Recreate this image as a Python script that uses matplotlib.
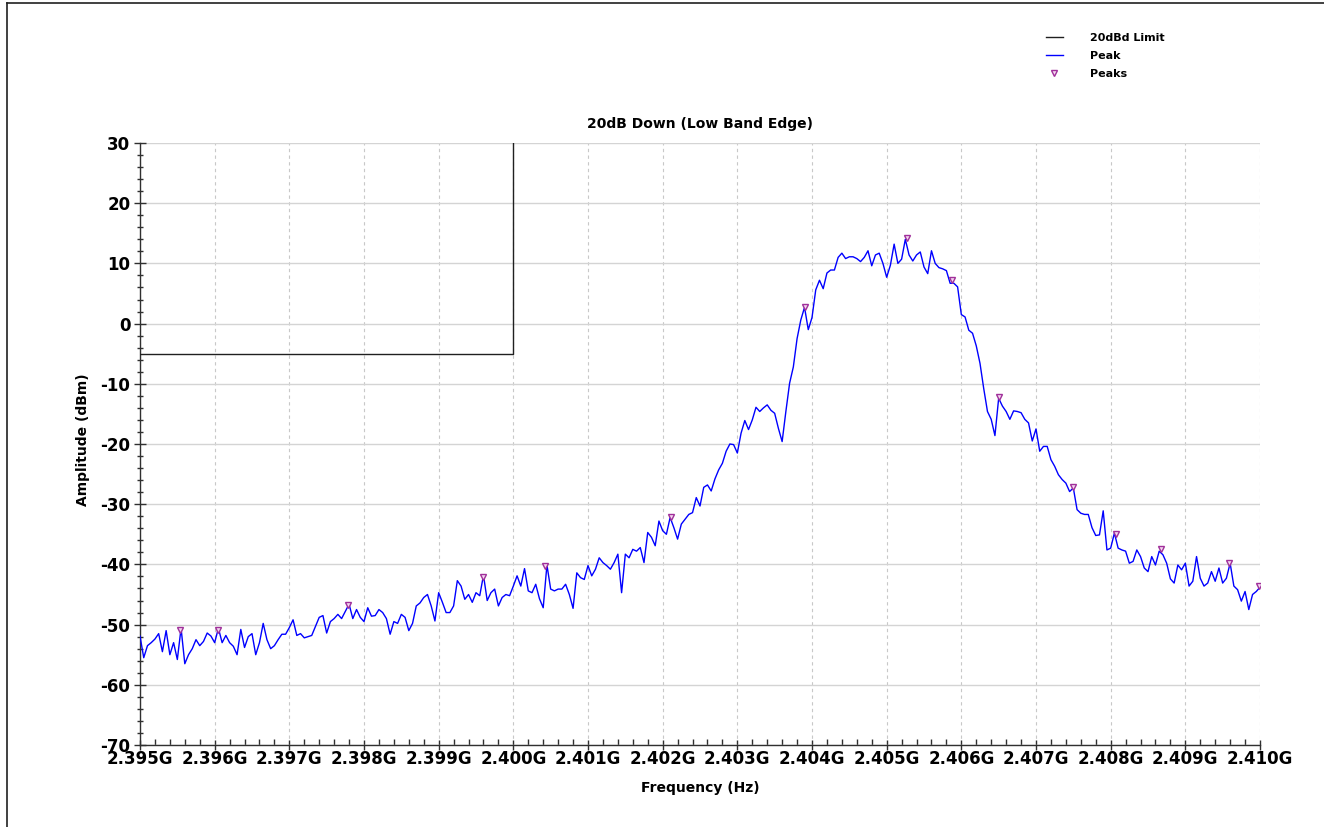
import numpy as np
import matplotlib
matplotlib.use("Agg")
import matplotlib.pyplot as plt
import matplotlib.ticker as ticker
from matplotlib.lines import Line2D

# sweep: 301 points from 2.395 GHz to 2.410 GHz
sweep_start = 2.395e9
sweep_stop = 2.410e9
sweep_points = 301

# peak trace (dBm)
peak_amp = [
    -51.9, -55.5, -53.5, -53.0, -52.4, -51.5, -54.5, -51.0, -55.0, -53.0,
    -55.8, -50.6, -56.5, -55.0, -54.0, -52.5, -53.5, -52.8, -51.4, -51.9,
    -53.0, -50.6, -53.0, -51.8, -53.0, -53.6, -55.0, -50.8, -53.8, -52.0,
    -51.5, -55.0, -53.0, -49.8, -52.5, -54.0, -53.5, -52.5, -51.6, -51.6,
    -50.5, -49.2, -51.8, -51.5, -52.2, -52.0, -51.8, -50.3, -48.8, -48.5,
    -51.4, -49.5, -49.0, -48.3, -49.0, -47.8, -46.6, -49.0, -47.5, -48.8,
    -49.5, -47.2, -48.6, -48.5, -47.5, -48.0, -49.0, -51.6, -49.5, -49.8,
    -48.3, -48.8, -51.0, -49.8, -46.9, -46.4, -45.5, -45.0,
    -46.9, -49.4, -44.7, -46.3, -48.0, -48.0, -46.9, -42.7, -43.6, -45.8,
    -45.0, -46.3, -44.7, -45.2, -41.8, -46.0, -44.7, -44.1, -46.9, -45.5,
    -45.0, -45.2, -43.6, -41.9, -43.6, -40.7, -44.4, -44.7, -43.3, -45.7,
    -47.2, -40.1, -44.1, -44.4, -44.1, -44.1, -43.3, -45.0, -47.3, -41.4,
    -42.2, -42.5, -40.2, -41.9, -40.8, -38.9, -39.7, -40.2, -40.8, -39.7,
    -38.3, -44.7, -38.3, -38.9, -37.5, -37.8, -37.2, -39.7, -34.7, -35.5,
    -36.9, -32.8, -34.4, -35.0, -32.2, -33.9, -35.8, -33.3, -32.5, -31.7,
    -31.4, -28.9, -30.3, -27.2, -26.8, -27.8, -25.8,
    -24.3, -23.2, -21.2, -20.0, -20.1, -21.5, -18.2, -16.1, -17.6, -16.0,
    -13.9, -14.6, -14.0, -13.5, -14.4, -14.9, -17.4, -19.6, -14.6, -9.9,
    -7.2, -2.5, 0.6, 2.7, -1.0, 1.0, 5.6, 7.2, 5.8, 8.4,
    8.9, 8.9, 11.0, 11.7, 10.8, 11.1, 11.1, 10.8, 10.3, 11.0,
    12.1, 9.6, 11.4, 11.7, 10.0, 7.7, 9.7, 13.2, 10.0, 10.7,
    14.0, 11.4, 10.4, 11.4, 11.9, 9.4, 8.3, 12.1, 10.0, 9.3,
    9.1, 8.8, 6.7, 6.7, 6.1, 1.5, 1.1, -1.1, -1.6, -3.7,
    -6.6, -10.8, -14.6,
    -15.9, -18.6, -12.4, -13.7, -14.6, -15.9, -14.5, -14.6, -14.8, -15.9,
    -16.5, -19.5, -17.5, -21.2, -20.4, -20.4, -22.6, -23.7, -25.1, -25.9,
    -26.5, -27.9, -27.3, -30.9, -31.5, -31.7, -31.7, -33.9,
    -35.2, -35.1, -31.1, -37.6, -37.3, -34.8, -37.3, -37.6, -37.8, -39.8,
    -39.5, -37.6, -38.7, -40.6, -41.2, -38.7, -40.1, -37.8, -38.4, -39.8,
    -42.4, -43.1, -40.1, -40.9, -39.8, -43.6, -42.8, -38.7, -42.3, -43.6,
    -43.1, -41.2, -42.8, -40.6, -43.1, -42.3, -39.8, -43.6, -44.2, -46.1,
    -44.5, -47.5, -45.0, -44.5, -43.8,
]

# peak markers
marker_freq = [2.39554e9, 2.39605e9, 2.39779e9, 2.39959e9, 2.40043e9,
               2.40211e9, 2.40391e9, 2.40527e9, 2.40588e9, 2.40651e9,
               2.40750e9, 2.40807e9, 2.40868e9, 2.40959e9, 2.40999e9]
marker_amp = [-50.9, -50.9, -46.7, -42.1, -40.3,
              -32.1, 2.8, 14.2, 7.2, -12.2,
              -27.1, -35.0, -37.4, -39.8, -43.6]

# 20dBd limit mask
limit_freq = [2.395e9, 2.400e9, 2.400e9]
limit_amp = [-5, -5, 30]

freq = np.linspace(sweep_start, sweep_stop, sweep_points)

plt.rcParams['font.family'] = ['DejaVu Sans']
plt.rcParams['axes.unicode_minus'] = False

fig = plt.figure(figsize=(13.24, 8.27), dpi=100)
ax = fig.add_axes([140/1324, 1-745/827, 1120/1324, 602/827])

ax.plot(limit_freq, limit_amp, color='#202020', lw=1.0, label='20dBd Limit', zorder=3)
ax.plot(freq, peak_amp, color='#0000ff', lw=1.0, label='Peak', zorder=4)
ax.plot(marker_freq, marker_amp, ls='none', marker='v', markersize=5,
        markerfacecolor='#f4d8f0', markeredgecolor='#a0309a', markeredgewidth=1.0,
        label='Peaks', zorder=5)

ax.set_xlim(sweep_start, sweep_stop)
ax.set_ylim(-70, 30)
ax.xaxis.set_major_locator(ticker.MultipleLocator(1e6))
ax.xaxis.set_minor_locator(ticker.MultipleLocator(2e5))
ax.xaxis.set_major_formatter(ticker.FuncFormatter(lambda v, p: '%.3fG' % (v/1e9)))
ax.yaxis.set_major_locator(ticker.MultipleLocator(10))
ax.yaxis.set_minor_locator(ticker.MultipleLocator(2))

ax.grid(axis='y', which='major', color='#d4d4d4', lw=1.0, ls='-')
ax.grid(axis='x', which='major', color='#c8c8c8', lw=0.8, ls=(0, (3, 3)))
ax.set_axisbelow(True)

for s in ['top', 'right']:
    ax.spines[s].set_visible(False)
for s in ['left', 'bottom']:
    ax.spines[s].set_color('#303030')
    ax.spines[s].set_linewidth(1.0)

ax.tick_params(axis='x', which='major', direction='inout', length=7, width=1,
               color='#303030', pad=0)
ax.tick_params(axis='x', which='minor', direction='in', length=4, width=1,
               color='#303030')
ax.tick_params(axis='y', which='major', direction='inout', length=8, width=1,
               color='#303030', pad=3)
ax.tick_params(axis='y', which='minor', direction='inout', length=5, width=1,
               color='#303030')
for lab in ax.get_xticklabels() + ax.get_yticklabels():
    lab.set_fontsize(12)
    lab.set_fontweight('bold')

ax.set_title('20dB Down (Low Band Edge)', fontsize=10, fontweight='bold', pad=11)
fig.text(700/1324, 1-788/827, 'Frequency (Hz)', fontsize=10, fontweight='bold',
         ha='center', va='center')
fig.text(83/1324, 1-440/827, 'Amplitude (dBm)', fontsize=10, fontweight='bold',
         ha='center', va='center', rotation=90)

fig.legend(loc='upper left', bbox_to_anchor=(1040/1324, 1-27/827), frameon=False,
           prop={'size': 8, 'weight': 'bold'}, handlelength=1.6, handletextpad=2.4,
           labelspacing=0.75, borderpad=0)

# outer frame (top and left only)
fig.add_artist(Line2D([7/1324, 1.0], [1-3/827, 1-3/827], color='#202020', lw=1.2))
fig.add_artist(Line2D([7/1324, 7/1324], [0, 1-3/827], color='#202020', lw=1.2))

fig.savefig('out.png', dpi=100)
